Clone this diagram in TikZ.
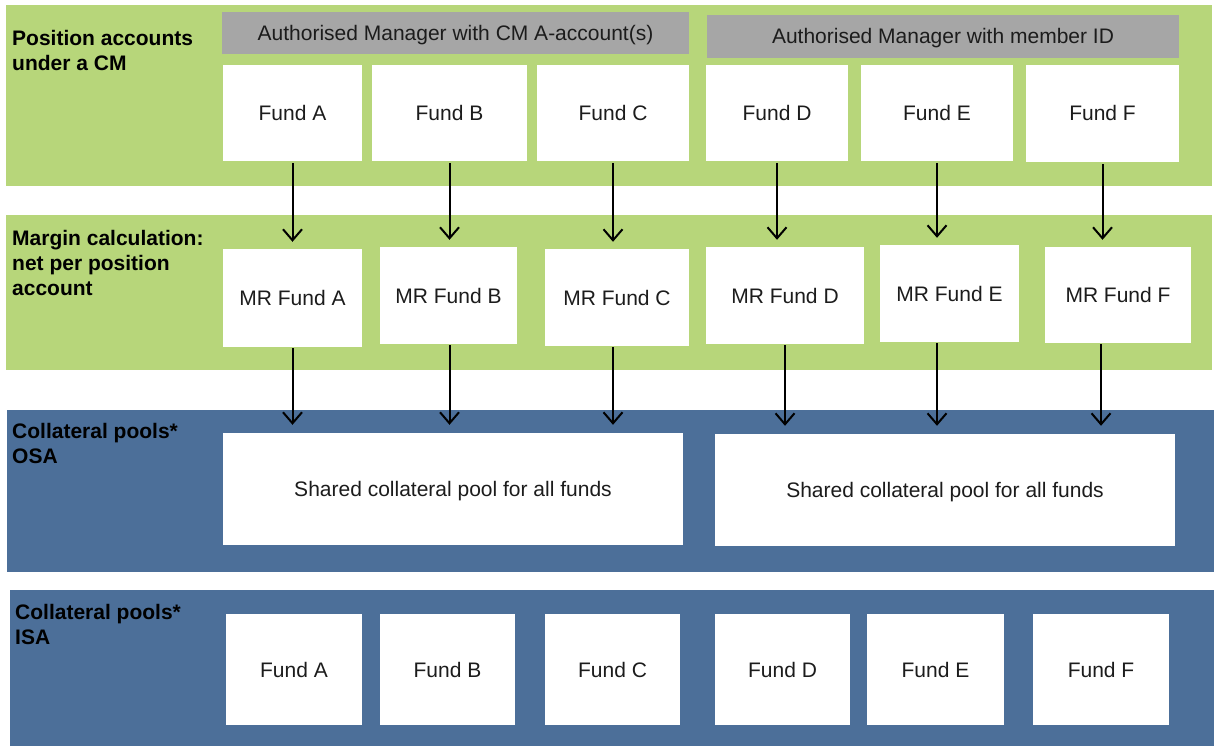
\documentclass[tikz,border=0pt]{standalone}
\usepackage{fontspec}
\setmainfont{Liberation Sans}
\usetikzlibrary{arrows.meta}
\definecolor{bandgreen}{RGB}{183,214,122}
\definecolor{bandblue}{RGB}{76,111,153}
\definecolor{hdrgray}{RGB}{166,166,166}
\definecolor{txt}{RGB}{28,28,28}
\newcommand\mybox[6]{\node[whitebox, minimum width=#4, minimum height=#5] (#1) at (#2,#3) {#6};}
\begin{document}
\begin{tikzpicture}[x=1pt,y=-1pt,
  whitebox/.style={fill=white, draw=none, inner sep=0pt, text=txt, text height=15pt, text depth=0pt, font=\fontsize{21}{24}\selectfont},
  hdr/.style={fill=hdrgray, draw=none, inner sep=0pt, text=txt, text height=15pt, text depth=0pt, font=\fontsize{21}{24}\selectfont},
  lbl/.style={anchor=north west, inner sep=0pt, align=left, text=black, font=\fontsize{21}{25}\selectfont\bfseries},
  arr/.style={draw=black, line width=2pt, -{Straight Barb[length=11pt,width=19pt,line width=2pt]}}
]
\useasboundingbox (0,0) rectangle (1214,746);
% bands
\fill[bandgreen] (6,5) rectangle (1212,186);
\fill[bandgreen] (6,215) rectangle (1212,370);
\fill[bandblue] (7,410) rectangle (1214,572);
\fill[bandblue] (10,590) rectangle (1214,746);
% labels
\node[lbl] (l1) at (12,30) {Position accounts\\under a CM};
\node[lbl] (l2) at (12,230) {Margin calculation:\\net per position\\account};
\node[lbl] (l3) at (12,423) {Collateral pools*\\OSA};
\node[lbl] (l4) at (15,604) {Collateral pools*\\ISA};
% headers
\node[hdr, minimum width=467, minimum height=42] (h1) at (455.5,33) {Authorised Manager with CM A-account(s)};
\node[hdr, minimum width=472, minimum height=43] (h2) at (943,36.5) {Authorised Manager with member ID};
% row 1
\mybox{fa}{292.5}{113}{139}{96}{Fund A}
\mybox{fb}{449.5}{113}{155}{96}{Fund B}
\mybox{fc}{613}{113}{152}{96}{Fund C}
\mybox{fd}{777}{113}{142}{96}{Fund D}
\mybox{fe}{937}{113}{152}{96}{Fund E}
\mybox{ff}{1102.5}{113.5}{153}{97}{Fund F}
% row 2
\mybox{ma}{292.5}{298}{139}{98}{MR Fund A}
\mybox{mb}{448.5}{295.5}{137}{97}{MR Fund B}
\mybox{mc}{617}{297.5}{144}{97}{MR Fund C}
\mybox{md}{785}{295.5}{158}{97}{MR Fund D}
\mybox{me}{949.5}{293.5}{139}{97}{MR Fund E}
\mybox{mf}{1118}{295}{146}{96}{MR Fund F}
% row 3
\mybox{pl}{453}{489}{460}{112}{Shared collateral pool for all funds}
\mybox{pr}{945}{490}{460}{112}{Shared collateral pool for all funds}
% row 4
\mybox{ia}{294}{669.5}{136}{111}{Fund A}
\mybox{ib}{447.5}{669.5}{135}{111}{Fund B}
\mybox{ic}{612.5}{669.5}{135}{111}{Fund C}
\mybox{id}{782.5}{669.5}{135}{111}{Fund D}
\mybox{ie}{935.5}{669.5}{137}{111}{Fund E}
\mybox{if}{1101}{669.5}{136}{111}{Fund F}
% arrows row 1 -> row 2
\foreach \a/\b in {fa/ma, fb/mb, fc/mc, fd/md, fe/me, ff/mf}
  \draw[arr, shorten <=2pt, shorten >=7pt] (\a.south) -- (\a.south |- \b.north);
% arrows row 2 -> pools
\draw[arr, shorten <=1pt, shorten >=8pt] (ma.south -| fa.south) -- (fa.south |- pl.north);
\draw[arr, shorten <=1pt, shorten >=8pt] (mb.south -| fb.south) -- (fb.south |- pl.north);
\draw[arr, shorten <=1pt, shorten >=8pt] (mc.south -| fc.south) -- (fc.south |- pl.north);
\draw[arr, shorten <=1pt, shorten >=8pt] (md.south) -- (md.south |- pr.north);
\draw[arr, shorten <=1pt, shorten >=8pt] (me.south -| fe.south) -- (fe.south |- pr.north);
\draw[arr, shorten <=1pt, shorten >=8pt] (mf.south -| if.north) -- (if.north |- pr.north);
\end{tikzpicture}
\end{document}
